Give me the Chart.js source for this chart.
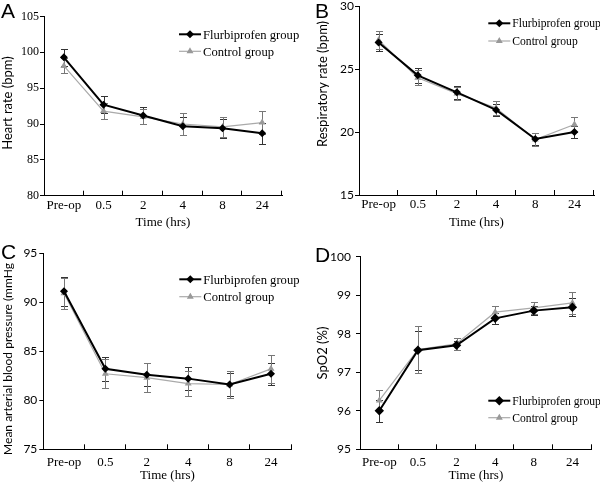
<!DOCTYPE html>
<html>
<head>
<meta charset="utf-8">
<script src="https://cdn.jsdelivr.net/npm/chart.js@4.4.1/dist/chart.umd.min.js"></script>
<style>
  html, body { margin: 0; padding: 0; background: #fff; }
  #wrap { position: relative; width: 600px; height: 484px; }
  #wrap canvas { position: absolute; }
</style>
</head>
<body>
<div id="wrap">
  <canvas id="chart-a" width="300" height="242" style="left:0;top:0"></canvas>
  <canvas id="chart-b" width="300" height="242" style="left:300px;top:0"></canvas>
  <canvas id="chart-c" width="300" height="242" style="left:0;top:242px"></canvas>
  <canvas id="chart-d" width="300" height="242" style="left:300px;top:242px"></canvas>
</div>
<script>
const timeLabels = ['Pre-op', '0.5', '2', '4', '8', '24'];

// A - heart rate
const hrFlur = [99.3, 92.7, 91.2, 89.7, 89.4, 88.7];
const hrFlurErr = [1.15, 1.2, 1.2, 1.3, 1.35, 1.5];
const hrCtrl = [98.1, 91.8, 91.0, 90.0, 89.6, 90.2];
const hrCtrlErr = [1.05, 1.1, 1.05, 1.5, 1.4, 1.65];

// B - respiratory rate
const rrFlur = [27.1, 24.5, 23.15, 21.75, 19.45, 20.0];
const rrFlurErr = [0.65, 0.6, 0.5, 0.45, 0.5, 0.5];
const rrCtrl = [27.3, 24.3, 23.05, 21.9, 19.4, 20.6];
const rrCtrlErr = [0.7, 0.6, 0.5, 0.55, 0.5, 0.6];

// C - mean arterial pressure
const mapFlur = [91.1, 83.2, 82.6, 82.2, 81.6, 82.7];
const mapFlurErr = [1.5, 1.25, 1.15, 1.15, 1.2, 1.1];
const mapCtrl = [90.9, 82.7, 82.3, 81.7, 81.6, 83.2];
const mapCtrlErr = [1.6, 1.5, 1.45, 1.25, 1.35, 1.45];

// D - SpO2
const spoFlur = [96.0, 97.57, 97.7, 98.4, 98.6, 98.69];
const spoFlurErr = [0.28, 0.5, 0.12, 0.14, 0.12, 0.23];
const spoCtrl = [96.27, 97.59, 97.74, 98.56, 98.67, 98.8];
const spoCtrlErr = [0.27, 0.62, 0.15, 0.16, 0.16, 0.28];

const SERIF = '"Liberation Serif", "Times New Roman", serif';
const SANS = 'Lato, "Open Sans", sans-serif';

// error bars, inward x ticks, y title, legend and panel letter
const panelExtras = {
  id: 'panelExtras',
  beforeDatasetsDraw(chart) {
    const ctx = chart.ctx;
    const y = chart.scales.y;
    chart.data.datasets.forEach((ds, di) => {
      const meta = chart.getDatasetMeta(di);
      ctx.save();
      ctx.strokeStyle = ds.errColor;
      ctx.lineWidth = 1;
      meta.data.forEach((pt, i) => {
        const top = Math.round(y.getPixelForValue(ds.data[i] + ds.errors[i])) + 0.5;
        const bot = Math.round(y.getPixelForValue(ds.data[i] - ds.errors[i])) + 0.5;
        const x = Math.round(pt.x) + 0.5;
        ctx.beginPath();
        ctx.moveTo(x, top); ctx.lineTo(x, bot);
        ctx.moveTo(x - 3.5, top); ctx.lineTo(x + 3.5, top);
        ctx.moveTo(x - 3.5, bot); ctx.lineTo(x + 3.5, bot);
        ctx.stroke();
      });
      ctx.restore();
    });
  },
  afterDraw(chart, args, opts) {
    const ctx = chart.ctx;
    const area = chart.chartArea;
    const n = chart.data.labels.length;
    ctx.save();
    // x tick marks pointing up
    ctx.strokeStyle = '#000';
    ctx.lineWidth = 1;
    ctx.beginPath();
    for (let i = 1; i <= n; i++) {
      const x = Math.round(area.left + i * (area.right - area.left) / n) - 0.5;
      ctx.moveTo(x, area.bottom);
      ctx.lineTo(x, area.bottom - 5);
    }
    ctx.stroke();

    // y title
    const yt = opts.yTitle;
    ctx.save();
    ctx.translate(yt.x, yt.y);
    ctx.rotate(-Math.PI / 2);
    ctx.fillStyle = '#000';
    ctx.font = yt.size + 'px ' + SANS;
    ctx.textAlign = 'center';
    ctx.textBaseline = 'middle';
    ctx.fillText(yt.text, 0, 0);
    ctx.restore();

    // legend
    const lg = opts.legend;
    chart.data.datasets.forEach((ds, di) => {
      const ly = lg.y + di * lg.dy;
      ctx.strokeStyle = ds.borderColor;
      ctx.lineWidth = ds.borderWidth;
      ctx.beginPath();
      ctx.moveTo(lg.x, ly);
      ctx.lineTo(lg.x + 22, ly);
      ctx.stroke();
      ctx.fillStyle = ds.pointBackgroundColor;
      ctx.strokeStyle = ds.pointBorderColor;
      Chart.helpers.drawPoint(ctx, {
        pointStyle: ds.pointStyle, radius: ds.pointRadius, rotation: 0, borderWidth: 1
      }, lg.x + 11, ly);
      ctx.fillStyle = '#000';
      ctx.font = lg.size + 'px ' + SERIF;
      ctx.textBaseline = 'middle';
      ctx.textAlign = 'left';
      ctx.fillText(ds.label, lg.x + 24, ly + 1);
    });

    // panel letter
    ctx.fillStyle = '#000';
    ctx.font = '21px "Liberation Sans", Arial, sans-serif';
    ctx.textBaseline = 'alphabetic';
    ctx.textAlign = 'left';
    ctx.fillText(opts.letter.text, opts.letter.x, opts.letter.y);
    ctx.restore();
  }
};

function makePanel(id, p) {
  const W = 300, H = 242;
  const yFont = { family: p.yTickFamily, size: 12 };
  const xFont = { family: SERIF, size: 13 };
  const xTitleFont = { family: SERIF, size: 13, lineHeight: 1.2 };
  const xAxisH = p.xTitleY + 13 * 1.2 / 2 - p.plot.b;

  const config = {
    type: 'line',
    data: {
      labels: timeLabels,
      datasets: [
        {
          label: 'Flurbiprofen group',
          data: p.flur,
          errors: p.flurErr,
          errColor: '#333',
          borderColor: '#000',
          borderWidth: 2,
          pointStyle: 'rectRot',
          pointRadius: p.flurRadius,
          pointBackgroundColor: '#000',
          pointBorderColor: '#000',
          tension: 0
        },
        {
          label: 'Control group',
          data: p.ctrl,
          errors: p.ctrlErr,
          errColor: '#777',
          borderColor: '#aaa',
          borderWidth: 1.2,
          pointStyle: 'triangle',
          pointRadius: 2.8,
          pointBackgroundColor: '#999',
          pointBorderColor: '#999',
          tension: 0
        }
      ]
    },
    options: {
      responsive: false,
      animation: false,
      events: [],
      layout: {
        padding: { left: 0, top: p.plot.t, right: W - p.plot.r, bottom: H - p.plot.b - xAxisH }
      },
      plugins: {
        legend: { display: false },
        tooltip: { enabled: false },
        panelExtras: { legend: p.legend, letter: p.letter, yTitle: p.yTitle }
      },
      scales: {
        x: {
          type: 'category',
          offset: true,
          grid: { display: false, drawTicks: false },
          border: { display: true, color: '#000', width: 1 },
          ticks: { color: '#000', font: xFont, padding: p.xLabelPad, maxRotation: 0, autoSkip: false },
          title: { display: true, text: 'Time (hrs)', color: '#000', font: xTitleFont, padding: 0 },
          afterFit(scale) {
            scale.height = xAxisH;
            scale.paddingLeft = 0;
            scale.paddingRight = 0;
          }
        },
        y: {
          min: p.yMin,
          max: p.yMax,
          ticks: { stepSize: p.yStep, color: '#000', font: yFont, padding: p.yTickPad },
          grid: { drawOnChartArea: false, drawTicks: true, tickLength: 4, color: '#000' },
          border: { display: true, color: '#000', width: 1 },
          afterFit(scale) {
            scale.width = p.plot.l;
            scale.paddingTop = 0;
            scale.paddingBottom = 0;
          }
        }
      }
    },
    plugins: [panelExtras]
  };
  return new Chart(document.getElementById(id), config);
}

makePanel('chart-a', {
  flur: hrFlur, flurErr: hrFlurErr, ctrl: hrCtrl, ctrlErr: hrCtrlErr,
  yMin: 80, yMax: 105, yStep: 5, yTickFamily: SERIF,
  yTitle: { text: 'Heart rate (bpm)', x: 8, y: 103, size: 13 },
  plot: { l: 44, r: 282, t: 16.5, b: 195.7 }, xTitleY: 223,
  xLabelPad: 2, yTickPad: 1, flurRadius: 2.6,
  legend: { x: 179, y: 34.3, dy: 17, size: 12.6 }, letter: { text: 'A', x: 1, y: 18 }
});

makePanel('chart-b', {
  flur: rrFlur, flurErr: rrFlurErr, ctrl: rrCtrl, ctrlErr: rrCtrlErr,
  yMin: 15, yMax: 30, yStep: 5, yTickFamily: SANS,
  yTitle: { text: 'Respiratory rate (bpm)', x: 22.5, y: 84, size: 13 },
  plot: { l: 59, r: 299, t: 3.3, b: 195 }, xTitleY: 223,
  xLabelPad: 2, yTickPad: 1, flurRadius: 2.6,
  legend: { x: 188.3, y: 23.3, dy: 17.7, size: 11.6 }, letter: { text: 'B', x: 15, y: 18.3 }
});

makePanel('chart-c', {
  flur: mapFlur, flurErr: mapFlurErr, ctrl: mapCtrl, ctrlErr: mapCtrlErr,
  yMin: 75, yMax: 95, yStep: 5, yTickFamily: SANS,
  yTitle: { text: 'Mean arterial blood pressure (mmHg', x: 8.5, y: 117, size: 12 },
  plot: { l: 43.3, r: 291.7, t: 11, b: 207.3 }, xTitleY: 234,
  xLabelPad: 5, yTickPad: 2, flurRadius: 2.6,
  legend: { x: 179.3, y: 37.3, dy: 17.4, size: 12.6 }, letter: { text: 'C', x: 1, y: 17 }
});

makePanel('chart-d', {
  flur: spoFlur, flurErr: spoFlurErr, ctrl: spoCtrl, ctrlErr: spoCtrlErr,
  yMin: 95, yMax: 100, yStep: 1, yTickFamily: SANS,
  yTitle: { text: 'SpO2 (%)', x: 22.5, y: 111, size: 13 },
  plot: { l: 60, r: 291.7, t: 14.7, b: 207.3 }, xTitleY: 234,
  xLabelPad: 5, yTickPad: 5, flurRadius: 3.3,
  legend: { x: 188.3, y: 158.7, dy: 17, size: 11.6 }, letter: { text: 'D', x: 15, y: 20 }
});
</script>
</body>
</html>
